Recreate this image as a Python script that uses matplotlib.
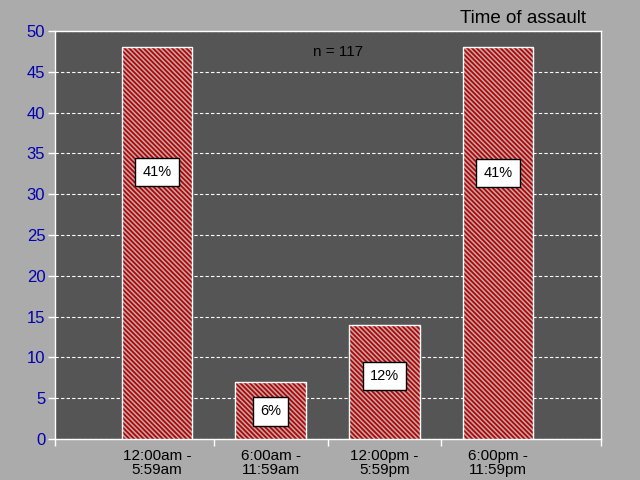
import matplotlib
matplotlib.use('Agg')
import matplotlib.pyplot as plt
import numpy as np

# data
categories = ['12:00am -\n5:59am', '6:00am -\n11:59am', '12:00pm -\n5:59pm', '6:00pm -\n11:59pm']
counts = [48, 7, 14, 48]
percent_labels = ['41%', '6%', '12%', '41%']
label_heights = [32.7, 3.4, 7.7, 32.6]
n_total = 117

plt.rcParams['font.family'] = ['Liberation Sans', 'DejaVu Sans']
plt.rcParams['hatch.linewidth'] = 1.3

fig = plt.figure(figsize=(6.4, 4.8), dpi=100, facecolor='#ababab')
ax = fig.add_axes([55 / 640, 41 / 480, 546 / 640, 408 / 480])
ax.set_facecolor('#555555')

x = np.arange(len(categories))
# hatched fill (red stripes on grey), then a white outline on top
ax.bar(x, counts, width=0.62, color='#b0b0b0', edgecolor='#c00000', linewidth=0,
       hatch='\\' * 7, zorder=3)
ax.bar(x, counts, width=0.62, fill=False, edgecolor='white', linewidth=1, zorder=3.5)

for xi, lab, h in zip(x, percent_labels, label_heights):
    ax.text(xi, h, lab, ha='center', va='center', fontsize=10.5, color='black', zorder=4,
            bbox=dict(boxstyle='square,pad=0.5', facecolor='white', edgecolor='black', linewidth=1))

ax.text(0.518, 0.948, f'n = {n_total}', transform=ax.transAxes, ha='center', va='center',
        fontsize=11, color='black')
fig.text(0.915, 0.962, 'Time of assault', ha='right', va='center', fontsize=13.5, color='black')

x_left, x_right = -0.897, 3.905
ax.set_xlim(x_left, x_right)
ax.set_ylim(0, 50)
ax.set_yticks(np.arange(0, 51, 5))
ax.tick_params(axis='y', colors='white', labelcolor='#0000b4', labelsize=12, length=5, width=1, pad=2)

ax.set_xticks([x_left + 0.001, 0.5, 1.5, 2.5, x_right - 0.001])
ax.set_xticklabels([])
ax.set_xticks(x, minor=True)
ax.set_xticklabels(categories, minor=True, fontsize=11, color='black', linespacing=1.0)
ax.tick_params(axis='x', which='major', colors='white', length=5, width=1)
ax.tick_params(axis='x', which='minor', length=0, pad=7)

for s in ax.spines.values():
    s.set_color('white')
    s.set_linewidth(1)

ax.yaxis.grid(True, color='white', linestyle=(0, (3, 2)), linewidth=0.8, zorder=1)
ax.set_axisbelow(True)

plt.savefig('out.png', dpi=100, facecolor=fig.get_facecolor())
